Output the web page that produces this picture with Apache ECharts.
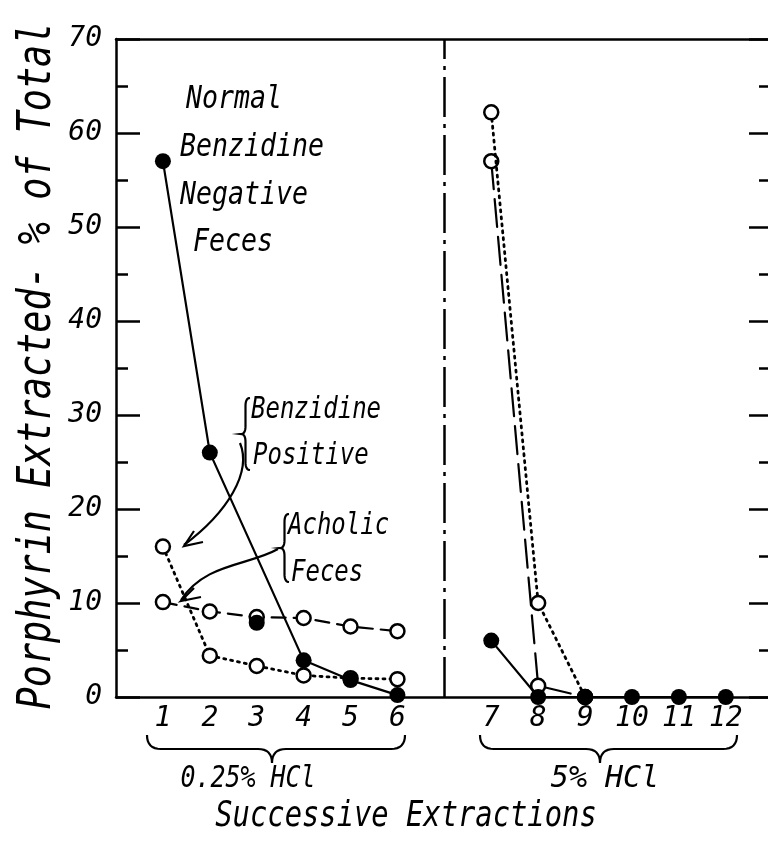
<!DOCTYPE html>
<html><head><meta charset="utf-8">
<script src="https://cdn.jsdelivr.net/npm/echarts@6/dist/echarts.min.js"></script>
<style>html,body{margin:0;padding:0;background:#fff}#c{width:768px;height:842px}</style>
</head><body><div id="c"></div>
<script>
// ---- data ----
const extractions = ['1','2','3','4','5','6','7','8','9','10','11','12'];
const acidGroups = ['0.25% HCl', '5% HCl'];
const yTickValues = [0, 10, 20, 30, 40, 50, 60, 70];
const yTitle = 'Porphyrin Extracted- % of Total';
const xTitle = 'Successive Extractions';
// Normal, benzidine negative feces (solid line, filled circles)
const normalNegative = [57, 26, null, 3.9, 1.8, 0.2, 6.0, 0, 0, 0, 0, 0];
// extra filled point drawn at extraction 3 (not on the solid line)
const normalNegativeExtra = [null, null, 7.9, null, null, null, null, null, null, null, null, null];
// Benzidine positive feces (dotted line, open circles)
const benzidinePositive = [16, 4.4, 3.3, 2.3, 2.0, 1.9, 62.2, 10, 0, null, null, null];
// Acholic feces (dashed line, open circles)
const acholic = [10.1, 9.1, 8.5, 8.4, 7.5, 7.0, 57, 1.2, 0, null, null, null];

// axis mapping: the two acid groups are separated by one empty slot
function xPos(i) { return i < 6 ? i + 1 : i + 2; }
const dividerPos = 7;
function seg(values, from, to) {
  const out = [];
  for (let i = from; i < to; i++) if (values[i] !== null) out.push([xPos(i), values[i]]);
  return out;
}

const FONT = '"DejaVu Sans Mono", monospace';
const chart = echarts.init(document.getElementById('c'), null, {renderer: 'canvas'});

const openSym = {symbol: 'circle', symbolSize: 14, itemStyle: {color: '#fff', borderColor: '#000', borderWidth: 2.5, opacity: 1}};
const fillSym = {symbol: 'circle', symbolSize: 16, itemStyle: {color: '#000', borderColor: '#000', borderWidth: 0, opacity: 1}};

function lineSeries(name, data, lineType, width, sym, z) {
  return Object.assign({
    type: 'line', name: name, data: data, z: z, animation: false, silent: true,
    lineStyle: {color: '#000', width: width, type: lineType, cap: 'round'},
    showSymbol: true
  }, sym);
}

// brace helpers (decorations)
function quad(p0, c, p1, n, out) {
  for (let k = 0; k <= n; k++) {
    const t = k / n;
    out.push([(1-t)*(1-t)*p0[0] + 2*(1-t)*t*c[0] + t*t*p1[0],
              (1-t)*(1-t)*p0[1] + 2*(1-t)*t*c[1] + t*t*p1[1]]);
  }
}
function vBrace(x, y1, y2, w) {
  const ym = (y1 + y2) / 2, r = 8, xm = x + w / 2, pts = [];
  quad([x + w, y1], [xm, y1], [xm, y1 + r], 8, pts);
  quad([xm, ym - r], [xm, ym], [x, ym], 8, pts);
  quad([x, ym], [xm, ym], [xm, ym + r], 8, pts);
  quad([xm, y2 - r], [xm, y2], [x + w, y2], 8, pts);
  return pts;
}
function hBrace(x1, x2, xt, y, h) {
  const r = 14, ym = y + h / 2, pts = [];
  quad([x1, y], [x1, ym], [x1 + r, ym], 8, pts);
  quad([xt - r, ym], [xt, ym], [xt, y + h], 8, pts);
  quad([xt, y + h], [xt, ym], [xt + r, ym], 8, pts);
  quad([x2 - r, ym], [x2, ym], [x2, y], 8, pts);
  return pts;
}
const stroke = {stroke: '#000', lineWidth: 2.2, fill: null};
function txt(t, x, y, size, align, sx, rot) {
  return {type: 'text', x: x, y: y, silent: true, scaleX: sx || 1, rotation: rot || 0,
    style: {text: t, fill: '#000', font: 'italic ' + size + 'px ' + FONT, textAlign: align || 'left', textVerticalAlign: 'middle'}};
}

const option = {
  backgroundColor: '#fff',
  animation: false,
  grid: {left: 116, top: 39, right: 0, bottom: 145, containLabel: false, outerBoundsMode: 'none'},
  xAxis: [{
    type: 'value', min: 0, max: 13.9, interval: 1, position: 'bottom',
    axisLine: {show: true, onZero: false, lineStyle: {color: '#000', width: 2.5}},
    axisTick: {show: false}, splitLine: {show: false},
    axisLabel: {
      margin: 8, color: '#000', fontSize: 28, fontStyle: 'italic', fontFamily: FONT,
      showMinLabel: true, showMaxLabel: true,
      formatter: function (v) {
        for (let i = 0; i < extractions.length; i++) if (xPos(i) === v) return extractions[i];
        return '';
      }
    }
  }, {
    type: 'value', min: 0, max: 13.9, position: 'top',
    axisLine: {show: true, onZero: false, lineStyle: {color: '#000', width: 2.5}},
    axisTick: {show: false}, axisLabel: {show: false}, splitLine: {show: false}
  }],
  yAxis: [{
    type: 'value', min: 0, max: 70, interval: 10, position: 'left',
    axisLine: {show: true, onZero: false, lineStyle: {color: '#000', width: 2.5}},
    axisTick: {show: true, inside: true, length: 24, lineStyle: {color: '#000', width: 2.5}},
    minorTick: {show: true, splitNumber: 2, length: 12, lineStyle: {color: '#000', width: 2.5}},
    splitLine: {show: false},
    axisLabel: {margin: 14, color: '#000', fontSize: 28, fontStyle: 'italic', fontFamily: FONT,
      formatter: function (v) { return yTickValues.indexOf(v) >= 0 ? String(v) : ''; }}
  }, {
    type: 'value', min: 0, max: 70, interval: 10, position: 'right',
    axisLine: {show: false, onZero: false},
    axisTick: {show: true, inside: true, length: 19, lineStyle: {color: '#000', width: 2.5}},
    minorTick: {show: true, splitNumber: 2, length: 9, lineStyle: {color: '#000', width: 2.5}},
    splitLine: {show: false}, axisLabel: {show: false}
  }],
  series: [
    Object.assign(lineSeries('Acholic (0.25% HCl)', seg(acholic, 0, 6), [14, 8], 2.2, openSym, 2), {
      markLine: {silent: true, symbol: ['none', 'none'], label: {show: false},
        lineStyle: {color: '#000', width: 2.5, type: [40, 7, 4, 7]},
        data: [{xAxis: dividerPos}]}
    }),
    lineSeries('Acholic (5% HCl)', seg(acholic, 6, 12), [28, 10], 2.2, openSym, 2),
    lineSeries('Benzidine positive (0.25% HCl)', seg(benzidinePositive, 0, 6), [2, 5], 2.8, openSym, 3),
    lineSeries('Benzidine positive (5% HCl)', seg(benzidinePositive, 6, 12), [2, 5], 2.8, openSym, 3),
    lineSeries('Normal (0.25% HCl)', seg(normalNegative, 0, 6), 'solid', 2.2, fillSym, 5),
    lineSeries('Normal (5% HCl)', seg(normalNegative, 6, 12), 'solid', 2.2, fillSym, 5),
    Object.assign({type: 'scatter', name: 'Normal extra', data: seg(normalNegativeExtra, 0, 12), z: 6, silent: true}, fillSym)
  ],
  graphic: [
    txt(yTitle, 38, 366, 46, 'center', 0.8, Math.PI / 2),
    txt('Normal', 186, 100, 32, 'left', 0.83),
    txt('Benzidine', 180, 148, 32, 'left', 0.83),
    txt('Negative', 180, 196, 32, 'left', 0.83),
    txt('Feces', 193, 243, 32, 'left', 0.83),
    txt('Benzidine', 251, 410, 30, 'left', 0.8),
    txt('Positive', 253, 456, 30, 'left', 0.8),
    txt('Acholic', 288, 526, 30, 'left', 0.8),
    txt('Feces', 291, 573, 30, 'left', 0.8),
    {type: 'polyline', silent: true, shape: {points: vBrace(241, 398, 470, 9)}, style: stroke},
    {type: 'polyline', silent: true, shape: {points: vBrace(280, 514, 582, 9)}, style: stroke},
    {type: 'bezierCurve', silent: true, shape: {x1: 240, y1: 443, cpx1: 252, cpy1: 472, cpx2: 228, cpy2: 512, x2: 184, y2: 545}, style: stroke},
    {type: 'polyline', silent: true, shape: {points: [[203, 542], [184, 546], [194, 531]]}, style: stroke},
    {type: 'bezierCurve', silent: true, shape: {x1: 278, y1: 549, cpx1: 248, cpy1: 566, cpx2: 205, cpy2: 563, x2: 181, y2: 600}, style: stroke},
    {type: 'polyline', silent: true, shape: {points: [[201, 597], [181, 601], [194, 588]]}, style: stroke},
    {type: 'polyline', silent: true, shape: {points: hBrace(147, 405, 272, 735, 28)}, style: stroke},
    {type: 'polyline', silent: true, shape: {points: hBrace(480, 737, 600, 735, 28)}, style: stroke},
    txt(acidGroups[0], 248, 779, 30, 'center', 0.83),
    txt(acidGroups[1], 605, 779, 30, 'center', 1),
    txt(xTitle, 406, 817, 36, 'center', 0.8)
  ]
};
chart.setOption(option);
</script>
</body></html>
